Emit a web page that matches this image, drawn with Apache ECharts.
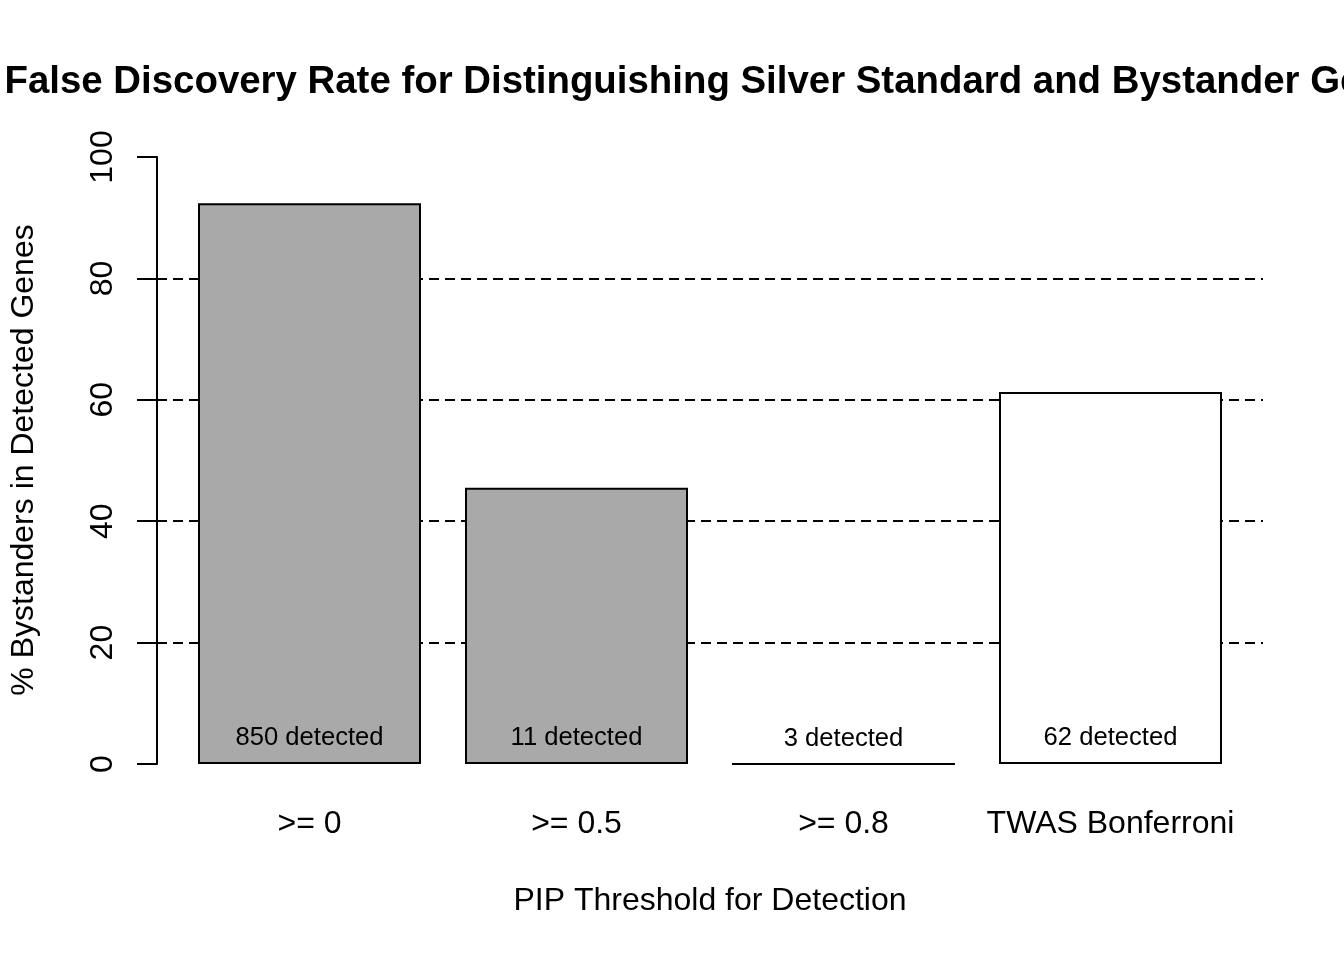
<!DOCTYPE html>
<html>
<head>
<meta charset="utf-8">
<script src="https://cdn.jsdelivr.net/npm/echarts@6/dist/echarts.min.js"></script>
<style>
html,body{margin:0;padding:0;background:#fff;}
#chart{width:1344px;height:960px;}
</style>
</head>
<body>
<div id="chart"></div>
<script>
// ---- data ----
const categories = ['>= 0', '>= 0.5', '>= 0.8', 'TWAS Bonferroni'];
const pctBystanders = [92.4, 45.5, 0, 61.3];
const detectedCounts = [850, 11, 3, 62];
const yTicks = [0, 20, 40, 60, 80, 100];

const titleText = 'False Discovery Rate for Distinguishing Silver Standard and Bystander Genes';
const xTitle = 'PIP Threshold for Detection';
const yTitle = '% Bystanders in Detected Genes';

// ---- styles ----
const barFills = ['#A9A9A9', '#A9A9A9', '#A9A9A9', '#FFFFFF'];
const FONT = '"Liberation Sans", Arial, Helvetica, sans-serif';

const chart = echarts.init(document.getElementById('chart'), null, {renderer: 'canvas'});

const option = {
  backgroundColor: '#ffffff',
  animation: false,
  grid: [
    {left: 157, right: 81, top: 157, bottom: 196},
    {left: 176, right: 100, top: 157, bottom: 196}
  ],
  xAxis: [
    {type: 'value', gridIndex: 0, min: 0, max: 1, show: false},
    {
      type: 'category', gridIndex: 1, data: categories,
      axisLine: {show: false}, axisTick: {show: false},
      axisLabel: {fontSize: 32, fontFamily: FONT, color: '#000', margin: 44, interval: 0}
    }
  ],
  yAxis: [
    {
      type: 'value', gridIndex: 0, min: yTicks[0], max: yTicks[yTicks.length - 1], interval: 20,
      axisLine: {show: true, lineStyle: {color: '#000', width: 2}},
      axisTick: {show: true, length: 20, lineStyle: {color: '#000', width: 2}},
      axisLabel: {rotate: 90, fontSize: 32, fontFamily: FONT, color: '#000', margin: 38},
      splitLine: {
        show: true, showMinLine: false, showMaxLine: false,
        lineStyle: {color: '#000', width: 2, type: [10, 6]}
      }
    },
    {type: 'value', gridIndex: 1, min: 0, max: 100, show: false}
  ],
  series: [
    {
      type: 'bar',
      xAxisIndex: 1, yAxisIndex: 1,
      barWidth: 223,
      z: 3,
      data: pctBystanders.map((v, i) => ({
        value: v,
        itemStyle: {color: barFills[i]}
      })),
      itemStyle: {borderColor: '#000', borderWidth: 2},
      label: {
        show: true, position: 'insideBottom', distance: 13,
        fontSize: 25.6, fontFamily: FONT, color: '#000',
        formatter: p => detectedCounts[p.dataIndex] + ' detected'
      }
    }
  ],
  graphic: [
    {
      type: 'text', x: 716, y: 82,
      style: {text: titleText, font: 'bold 38.4px ' + FONT, fill: '#000', align: 'center', verticalAlign: 'middle'}
    },
    {
      type: 'text', x: 710, y: 901,
      style: {text: xTitle, font: '32px ' + FONT, fill: '#000', align: 'center', verticalAlign: 'middle'}
    },
    {
      type: 'text', x: 24, y: 460, rotation: Math.PI / 2,
      style: {text: yTitle, font: '32px ' + FONT, fill: '#000', align: 'center', verticalAlign: 'middle'}
    }
  ]
};
chart.setOption(option);
</script>
</body>
</html>
